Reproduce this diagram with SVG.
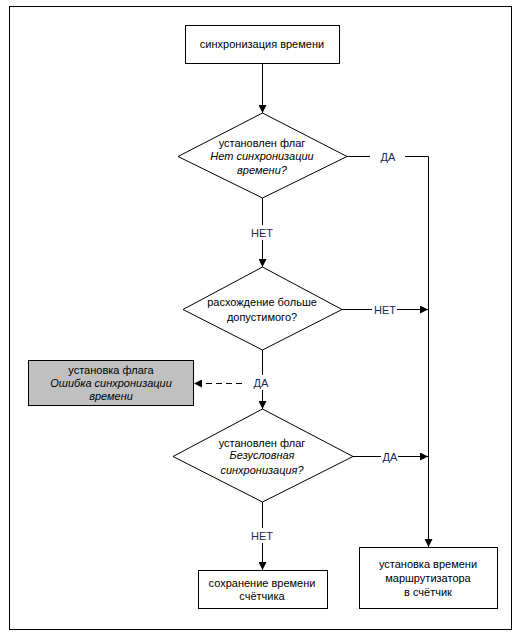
<svg xmlns="http://www.w3.org/2000/svg" width="517" height="636" viewBox="0 0 517 636">
<defs>
<marker id="ah" viewBox="0 0 10 10" refX="10" refY="5" markerWidth="8" markerHeight="8" markerUnits="userSpaceOnUse" orient="auto">
<path d="M0,0 L10,5 L0,10 z" fill="#000"/>
</marker>
<style>
.shape{fill:#fff;stroke:#000;stroke-width:1}
.gray{fill:#c0c0c0;stroke:#000;stroke-width:1}
.t{font-family:"Liberation Sans",Arial,sans-serif;font-size:11px;fill:#000;text-anchor:middle}
.i{font-style:italic}
.lbl{font-family:"Liberation Sans",Arial,sans-serif;font-size:11px;fill:#1c2660;text-anchor:middle}
.c{fill:none;stroke:#000;stroke-width:1}
.d{fill:none;stroke:#000;stroke-width:1;stroke-dasharray:6,4}
</style>
</defs>
<rect x="0" y="0" width="517" height="636" fill="#fff"/>
<rect x="9.5" y="6.5" width="502" height="623" fill="none" stroke="#000"/>

<g id="connectors">
<line class="c" x1="262.5" y1="63" x2="262.5" y2="113" marker-end="url(#ah)"/>
<polyline class="c" points="347,156.5 370,156.5"/>
<polyline class="c" points="405,156.5 428.5,156.5 428.5,547" marker-end="url(#ah)"/>
<line class="c" x1="262.5" y1="198" x2="262.5" y2="225"/>
<line class="c" x1="262.5" y1="240" x2="262.5" y2="267" marker-end="url(#ah)"/>
<line class="c" x1="342" y1="309.5" x2="372" y2="309.5"/>
<line class="c" x1="397" y1="309.5" x2="428" y2="309.5" marker-end="url(#ah)"/>
<line class="c" x1="262.5" y1="350" x2="262.5" y2="375"/>
<line class="c" x1="262.5" y1="390" x2="262.5" y2="409" marker-end="url(#ah)"/>
<line class="d" x1="242" y1="383.5" x2="194" y2="383.5" marker-end="url(#ah)"/>
<line class="c" x1="353" y1="456.5" x2="381" y2="456.5"/>
<line class="c" x1="398" y1="456.5" x2="428" y2="456.5" marker-end="url(#ah)"/>
<line class="c" x1="262.5" y1="502" x2="262.5" y2="528"/>
<line class="c" x1="262.5" y1="543" x2="262.5" y2="570" marker-end="url(#ah)"/>
<text class="lbl" x="388" y="160.5">ДА</text>
<text class="lbl" x="262" y="237">НЕТ</text>
<text class="lbl" x="385" y="313.5">НЕТ</text>
<text class="lbl" x="261" y="387">ДА</text>
<text class="lbl" x="390" y="460.5">ДА</text>
<text class="lbl" x="262" y="540">НЕТ</text>
</g>

<g id="start">
<rect class="shape" x="185.5" y="25.5" width="154" height="38"/>
<text class="t" x="262" y="48">синхронизация времени</text>
</g>

<g id="dec1">
<polygon class="shape" points="262.5,113 347,156.5 262.5,198 178,156.5"/>
<text class="t" x="262" y="147">установлен флаг</text>
<text class="t i" x="262" y="160">Нет синхронизации</text>
<text class="t i" x="262" y="174">времени?</text>
</g>

<g id="dec2">
<polygon class="shape" points="262.5,267 342,309.5 262.5,350 183,309.5"/>
<text class="t" x="262" y="306">расхождение больше</text>
<text class="t" x="262" y="321">допустимого?</text>
</g>

<g id="errflag">
<rect class="gray" x="28.5" y="360.5" width="165" height="45"/>
<text class="t" x="111" y="374">установка флага</text>
<text class="t i" x="111" y="387">Ошибка синхронизации</text>
<text class="t i" x="111" y="400">времени</text>
</g>

<g id="dec3">
<polygon class="shape" points="262.5,409 353,456.5 262.5,502 173,456.5"/>
<text class="t" x="262" y="447">установлен флаг</text>
<text class="t i" x="262" y="459">Безусловная</text>
<text class="t i" x="262" y="474">синхронизация?</text>
</g>

<g id="save">
<rect class="shape" x="198.5" y="570.5" width="129" height="38"/>
<text class="t" x="262" y="587">сохранение времени</text>
<text class="t" x="262" y="600">счётчика</text>
</g>

<g id="setrouter">
<rect class="shape" x="359.5" y="547.5" width="138" height="61"/>
<text class="t" x="428" y="568">установка времени</text>
<text class="t" x="428" y="582">маршрутизатора</text>
<text class="t" x="428" y="596">в счётчик</text>
</g>
</svg>
